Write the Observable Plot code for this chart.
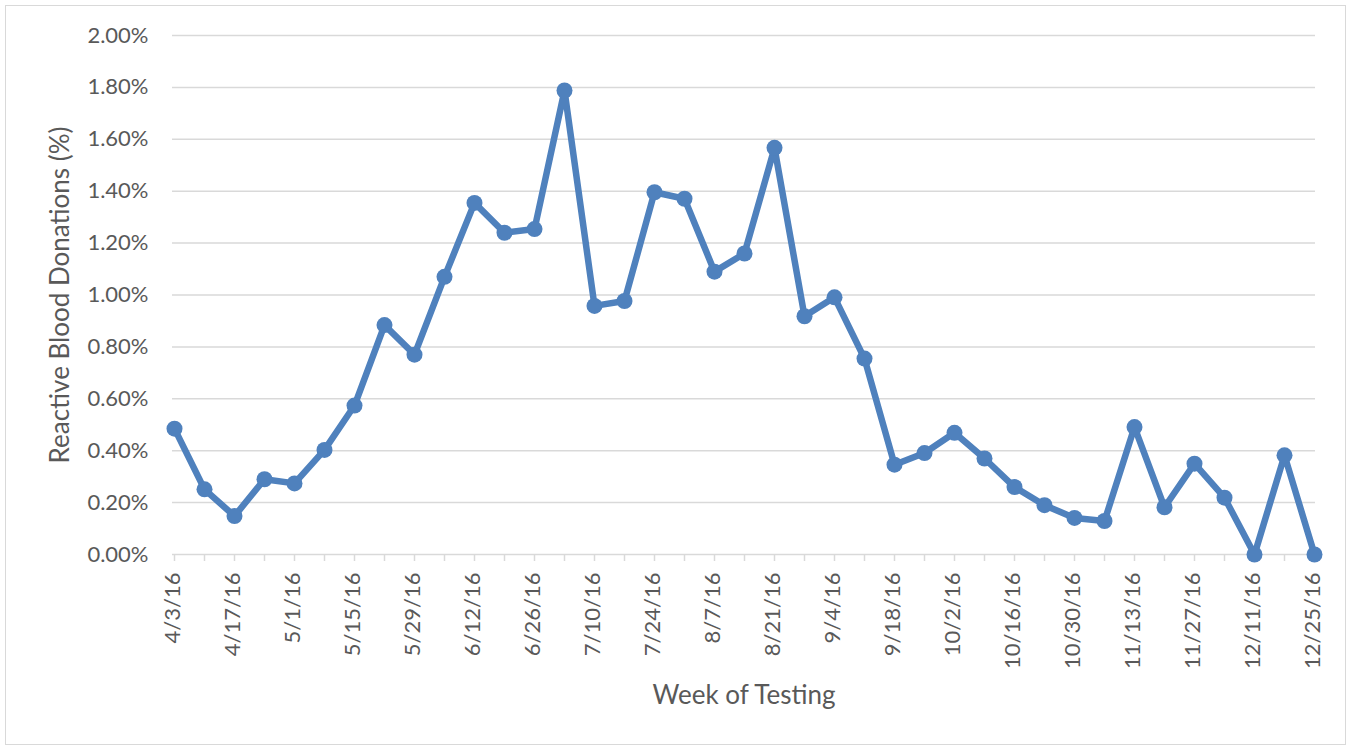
<!DOCTYPE html>
<html>
<head>
<meta charset="utf-8">
<script src="https://cdn.jsdelivr.net/npm/d3@7"></script>
<script src="https://cdn.jsdelivr.net/npm/@observablehq/plot@0.6"></script>
<style>
  html, body { margin: 0; padding: 0; background: #fff; }
  #wrap { position: relative; width: 1355px; height: 748px; }
  #border { position: absolute; left: 5px; top: 5px; width: 1341px; height: 740px; border: 1px solid #D9D9D9; box-sizing: border-box; pointer-events: none; }
  #chart { position: absolute; left: 0; top: 0; }
</style>
</head>
<body>
<div id="wrap"><div id="chart"></div><div id="border"></div></div>
<script>
// Week labels (category axis)
const weeks = ["4/3/16","4/10/16","4/17/16","4/24/16","5/1/16","5/8/16","5/15/16","5/22/16","5/29/16",
  "6/5/16","6/12/16","6/19/16","6/26/16","7/3/16","7/10/16","7/17/16","7/24/16","7/31/16",
  "8/7/16","8/14/16","8/21/16","8/28/16","9/4/16","9/11/16","9/18/16","9/25/16","10/2/16",
  "10/9/16","10/16/16","10/23/16","10/30/16","11/6/16","11/13/16","11/20/16","11/27/16","12/4/16",
  "12/11/16","12/18/16","12/25/16"];
// Reactive blood donations (%)
const reactive = [0.485,0.251,0.148,0.290,0.274,0.403,0.574,0.884,0.770,
  1.070,1.355,1.240,1.254,1.788,0.958,0.977,1.396,1.371,
  1.090,1.160,1.567,0.918,0.991,0.755,0.346,0.391,0.469,
  0.370,0.260,0.190,0.141,0.129,0.491,0.182,0.350,0.219,
  0.000,0.382,0.000];
// Tick labels shown on the x axis (every other week)
const xTickLabels = weeks.filter((d, i) => i % 2 === 0);
// Y ticks
const yTicks = [0, 0.2, 0.4, 0.6, 0.8, 1.0, 1.2, 1.4, 1.6, 1.8, 2.0];

const data = weeks.map((w, i) => ({week: w, value: reactive[i]}));
const blue = "#4F81BD";
const textColor = "#595959";
const font = "Lato, 'Open Sans', sans-serif";

const chart = Plot.plot({
  width: 1355,
  height: 748,
  marginLeft: 172,
  marginRight: 40,
  marginTop: 35,
  marginBottom: 194,
  style: {fontFamily: font, color: textColor, background: "transparent"},
  x: {type: "point", domain: weeks, padding: 0},
  y: {domain: [0, 2], nice: false},
  marks: [
    Plot.ruleY(yTicks.filter(d => d > 0), {stroke: "#D9D9D9", strokeWidth: 1.5}),
    Plot.ruleY([0], {stroke: "#D9D9D9", strokeWidth: 1.5}),
    Plot.axisX(weeks, {tickSize: 7, text: null, stroke: "#D9D9D9", strokeWidth: 1.5, label: null}),
    Plot.axisX(xTickLabels, {tickSize: 0, tickPadding: 18, tickRotate: -90, fontSize: 22, fill: textColor, label: null, dx: -2}),
    Plot.axisY(yTicks, {tickSize: 0, tickPadding: 24, fontSize: 22, fill: textColor, tickFormat: d => d.toFixed(2) + "%", label: null}),
    Plot.line(data, {x: "week", y: "value", stroke: blue, strokeWidth: 6.5, strokeLinejoin: "round", strokeLinecap: "round"}),
    Plot.dot(data, {x: "week", y: "value", r: 8, fill: blue, stroke: "none"}),
    Plot.text(["Week of Testing"], {frameAnchor: "bottom", dy: 141, fontSize: 26, fill: textColor, lineAnchor: "middle", textAnchor: "middle"}),
    Plot.text(["Reactive Blood Donations (%)"], {frameAnchor: "left", dx: -112, rotate: -90, fontSize: 26, fill: textColor, lineAnchor: "middle", textAnchor: "middle"})
  ]
});
document.getElementById("chart").appendChild(chart);
</script>
</body>
</html>
